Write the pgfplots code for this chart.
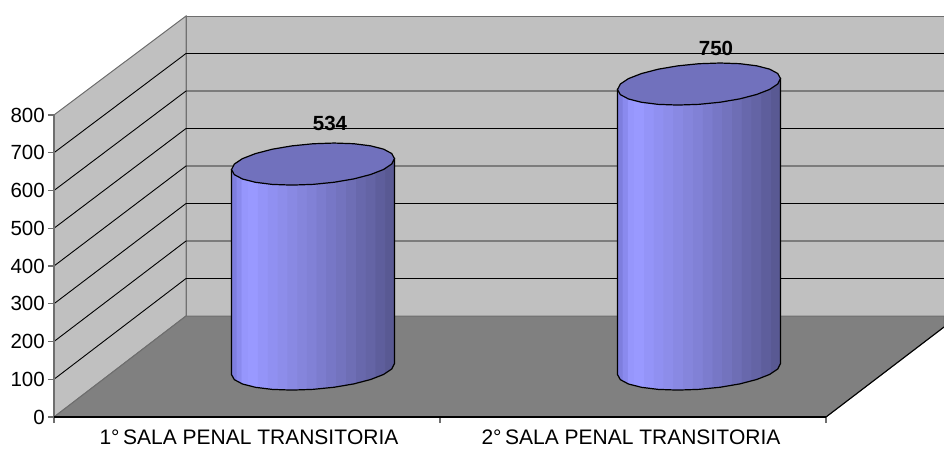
\documentclass[border=0pt]{standalone}
\usepackage{pgfplots}
\pgfplotsset{compat=1.18}
\usepackage{fontspec}
\setmainfont[Kerning=Off]{Liberation Sans}
\definecolor{wall}{RGB}{192,192,192}
\definecolor{floorgray}{RGB}{128,128,128}
\definecolor{edgegray}{RGB}{110,110,110}
\definecolor{captop}{RGB}{113,113,189}
% banded fill of the cylinder body, 25bp to 75bp is the width of the path
\pgfdeclarehorizontalshading{cylbody}{100bp}{
  rgb(0bp)=(.494,.494,.871); rgb(26.4bp)=(.494,.494,.871);
  rgb(26.5bp)=(.541,.541,.933); rgb(27.9bp)=(.541,.541,.933);
  rgb(28bp)=(.588,.588,.988); rgb(29.9bp)=(.588,.588,.988);
  rgb(30bp)=(.600,.600,1); rgb(32.9bp)=(.600,.600,1);
  rgb(33bp)=(.580,.580,.973); rgb(35.9bp)=(.580,.580,.973);
  rgb(36bp)=(.565,.565,.945); rgb(38.9bp)=(.565,.565,.945);
  rgb(39bp)=(.553,.553,.918); rgb(41.9bp)=(.553,.553,.918);
  rgb(42bp)=(.537,.537,.890); rgb(44.9bp)=(.537,.537,.890);
  rgb(45bp)=(.522,.522,.863); rgb(47.9bp)=(.522,.522,.863);
  rgb(48bp)=(.506,.506,.839); rgb(50.9bp)=(.506,.506,.839);
  rgb(51bp)=(.486,.486,.808); rgb(53.9bp)=(.486,.486,.808);
  rgb(54bp)=(.467,.467,.776); rgb(56.9bp)=(.467,.467,.776);
  rgb(57bp)=(.451,.451,.745); rgb(59.9bp)=(.451,.451,.745);
  rgb(60bp)=(.431,.431,.710); rgb(62.9bp)=(.431,.431,.710);
  rgb(63bp)=(.408,.408,.675); rgb(65.9bp)=(.408,.408,.675);
  rgb(66bp)=(.392,.392,.647); rgb(68.9bp)=(.392,.392,.647);
  rgb(69bp)=(.369,.369,.612); rgb(71.9bp)=(.369,.369,.612);
  rgb(72bp)=(.349,.349,.576); rgb(100bp)=(.349,.349,.576)}
\begin{document}
\begin{tikzpicture}
\useasboundingbox (0,0) rectangle (944pt,448pt);
\begin{axis}[
    at={(54pt,31pt)}, anchor=south west,
    scale only axis,
    width=890pt, height=417pt,
    xmin=54, xmax=944,
    ymin=0, ymax=1104.6,
    clip=false,
    axis line style={draw=none},
    xtick pos=bottom, ytick pos=left,
    tick align=outside,
    major tick length=6pt, minor tick length=6pt,
    ytick={0,100,200,300,400,500,600,700,800},
    xtick={249,631},
    xticklabels={{1°\,SALA PENAL TRANSITORIA},{2°\,SALA PENAL TRANSITORIA}},
    minor xtick={54,440,826},
    major x tick style={draw=none},
    major y tick style={edgegray, line width=1.2pt},
    minor x tick style={edgegray, line width=1.2pt},
    tick label style={font=\fontsize{20.5}{24}\selectfont},
    /pgf/number format/assume math mode=true,
    xticklabel style={anchor=base, yshift=-21pt, inner sep=0pt, font=\fontsize{21}{24}\selectfont},
    yticklabel style={inner sep=0pt, xshift=-3pt},
    nodes near coords,
    point meta=explicit symbolic,
    every node near coord/.style={anchor=center, font=\bfseries\fontsize{20.5}{24}\selectfont, inner sep=0pt},
]

% walls and floor
\addplot[fill=wall, draw=edgegray, line width=1pt, nodes near coords={}] coordinates {
    (186,267.5) (186,1062.2) (944,1062.2) (944,267.5)
};
\addplot[fill=wall, draw=edgegray, line width=1pt, nodes near coords={}] coordinates {
    (54,0) (54,800) (186,1062.2) (186,267.5)
} -- cycle;
\addplot[fill=floorgray, draw=edgegray, line width=1pt, nodes near coords={}] coordinates {
    (54,0) (186,267.5) (944,267.5) (944,238.4) (826,0)
} -- cycle;
\addplot[draw=black, line width=1.1pt, nodes near coords={}] coordinates {(826,0) (944,238.4)};

% grid on the walls
\addplot[black, line width=0.9pt, nodes near coords={}] coordinates {(54,100) (186,366.8) (944,366.8)};
\addplot[black, line width=0.9pt, nodes near coords={}] coordinates {(54,200) (186,466.2) (944,466.2)};
\addplot[black, line width=0.9pt, nodes near coords={}] coordinates {(54,300) (186,565.5) (944,565.5)};
\addplot[black, line width=0.9pt, nodes near coords={}] coordinates {(54,400) (186,664.9) (944,664.9)};
\addplot[black, line width=0.9pt, nodes near coords={}] coordinates {(54,500) (186,764.2) (944,764.2)};
\addplot[black, line width=0.9pt, nodes near coords={}] coordinates {(54,600) (186,863.5) (944,863.5)};
\addplot[black, line width=0.9pt, nodes near coords={}] coordinates {(54,700) (186,962.9) (944,962.9)};

% axis lines
\addplot[edgegray, line width=1.6pt, nodes near coords={}] coordinates {(54,0) (54,800)};
\addplot[black, line width=1.4pt, nodes near coords={}] coordinates {(54,0) (826,0)};

% 1st cylinder
\addplot[shade, shading=cylbody, draw=black, line width=1.2pt, nodes near coords={}] coordinates {
    (394.5,684.6) (394.5,141.6) (391.7,127.1) (383.6,112.7) (370.6,99.3) (353.8,87.7) (334.1,78.8)
    (313,73.2) (291.9,71.3) (272.2,73.1) (255.4,78.7) (242.4,87.5) (234.3,99) (231.5,112.4)
    (231.5,655.4)
} -- cycle;
\addplot[fill=captop, draw=black, line width=1.2pt, nodes near coords={}] coordinates {
    (394.5,684.6) (391.7,670.1) (383.6,655.7) (370.6,642.3) (353.8,630.7) (334.1,621.8)
    (313,616.2) (291.9,614.3) (272.2,616.1) (255.4,621.7) (242.4,630.5) (234.3,642)
    (231.5,655.4) (234.3,669.9) (242.4,684.3) (255.4,697.7) (272.2,709.3) (291.9,718.2)
    (313,723.8) (334.1,725.7) (353.8,723.9) (370.6,718.3) (383.6,709.5) (391.7,698)
} -- cycle;

% 2nd cylinder
\addplot[shade, shading=cylbody, draw=black, line width=1.2pt, nodes near coords={}] coordinates {
    (780.5,896.6) (780.5,141.6) (777.7,127.1) (769.6,112.7) (756.6,99.3) (739.8,87.7) (720.1,78.8)
    (699,73.2) (677.9,71.3) (658.2,73.1) (641.4,78.7) (628.4,87.5) (620.3,99) (617.5,112.4)
    (617.5,867.4)
} -- cycle;
\addplot[fill=captop, draw=black, line width=1.2pt, nodes near coords={}] coordinates {
    (780.5,896.6) (777.7,882.1) (769.6,867.7) (756.6,854.3) (739.8,842.7) (720.1,833.8)
    (699,828.2) (677.9,826.3) (658.2,828.1) (641.4,833.7) (628.4,842.5) (620.3,854)
    (617.5,867.4) (620.3,881.9) (628.4,896.3) (641.4,909.7) (658.2,921.3) (677.9,930.2)
    (699,935.8) (720.1,937.7) (739.8,935.9) (756.6,930.3) (769.6,921.5) (777.7,910)
} -- cycle;

% value labels
\addplot[draw=none, mark=none] coordinates {(330,777.5)[534] (716,977.5)[750]};

\end{axis}
\end{tikzpicture}
\end{document}
